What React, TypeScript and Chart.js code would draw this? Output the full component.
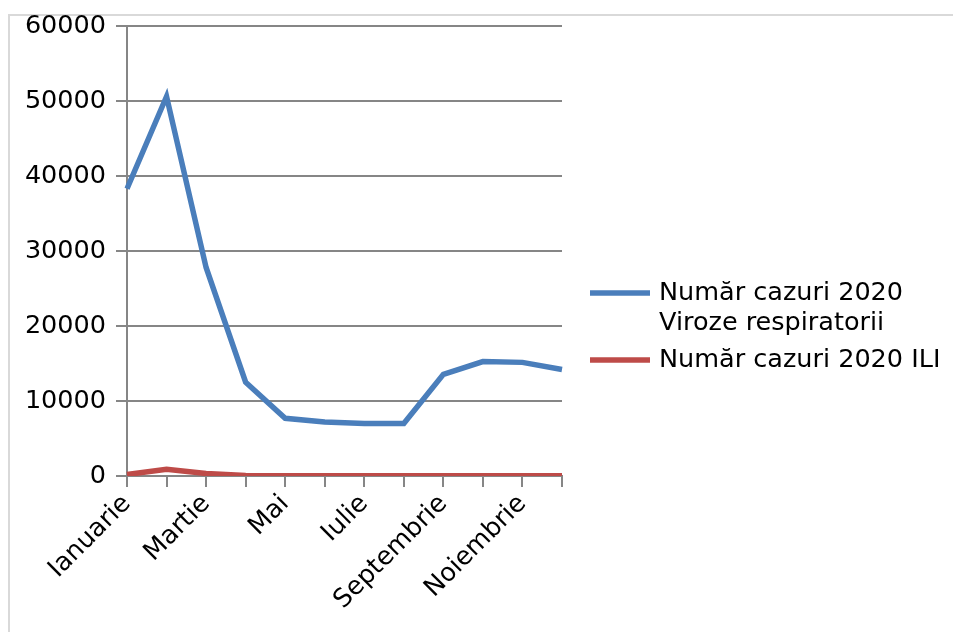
import React, { useEffect, useRef } from "react";
import { Chart, registerables } from "chart.js";

Chart.register(...registerables);

const months = [
  "Ianuarie", "Februarie", "Martie", "Aprilie", "Mai", "Iunie",
  "Iulie", "August", "Septembrie", "Octombrie", "Noiembrie", "Decembrie",
];
const virozeValues = [38300, 50600, 27800, 12500, 7700, 7200, 7000, 7000, 13550, 15250, 15150, 14200];
const iliValues = [200, 900, 330, 60, 20, 20, 20, 20, 20, 20, 20, 20];
const seriesLabels = [["Număr cazuri 2020", "Viroze respiratorii"], ["Număr cazuri 2020 ILI"]];
const seriesColors = ["#4a7ebb", "#be4b48"];
const yTicks = { min: 0, max: 60000, step: 10000 };

const FONT = "'DejaVu Sans', sans-serif";
const FS = 25.5;

const legendPlugin = {
  id: "customLegend",
  afterDraw(chart: any) {
    const ctx = chart.ctx;
    ctx.save();
    ctx.font = `${FS}px ${FONT}`;
    ctx.fillStyle = "#000";
    ctx.textBaseline = "middle";
    const x0 = 590;
    const lineLen = 60;
    const tx = 659;
    const lh = 30;
    let y = 293;
    chart.data.datasets.forEach((ds: any) => {
      const lines: string[] = Array.isArray(ds.label) ? ds.label : [ds.label];
      ctx.strokeStyle = ds.borderColor;
      ctx.lineWidth = 5.5;
      ctx.beginPath();
      ctx.moveTo(x0, y);
      ctx.lineTo(x0 + lineLen, y);
      ctx.stroke();
      lines.forEach((t, j) => ctx.fillText(t, tx, y + j * lh));
      y += lines.length * lh + 7;
    });
    ctx.restore();
  },
};

export default function App() {
  const ref = useRef<HTMLCanvasElement>(null);
  useEffect(() => {
    const chart = new Chart(ref.current!, {
      type: "line",
      data: {
        labels: months,
        datasets: [
          {
            label: seriesLabels[0] as any,
            data: virozeValues,
            borderColor: seriesColors[0],
            backgroundColor: seriesColors[0],
            borderWidth: 5.5,
            pointRadius: 0,
            tension: 0,
          },
          {
            label: seriesLabels[1] as any,
            data: iliValues,
            borderColor: seriesColors[1],
            backgroundColor: seriesColors[1],
            borderWidth: 5.5,
            pointRadius: 0,
            tension: 0,
          },
        ],
      },
      options: {
        animation: false,
        responsive: false,
        maintainAspectRatio: false,
        layout: { padding: { left: 0, right: 953 - 562, top: 26, bottom: 0 } },
        plugins: { legend: { display: false }, tooltip: { enabled: false } },
        scales: {
          x: {
            offset: false,
            grid: { drawOnChartArea: false, drawTicks: true, tickLength: 11, color: "#868686", lineWidth: 2 },
            border: { color: "#868686", width: 2 },
            ticks: {
              autoSkip: false,
              minRotation: 45,
              maxRotation: 45,
              padding: 2,
              color: "#000",
              font: { family: FONT, size: FS },
              callback: (_v: any, i: number) => (i % 2 === 0 ? months[i] : ""),
            },
            afterFit: (s: any) => { s.height = 632 - 476; },
          },
          y: {
            min: yTicks.min,
            max: yTicks.max,
            grid: { color: "#868686", lineWidth: 2, tickLength: 11 },
            border: { color: "#868686", width: 2 },
            ticks: {
              stepSize: yTicks.step,
              padding: 10,
              color: "#000",
              font: { family: FONT, size: FS },
              callback: (v: any) => String(v),
            },
            afterFit: (s: any) => { s.width = 127; },
          },
        },
      },
      plugins: [legendPlugin],
    });
    return () => chart.destroy();
  }, []);
  return (
    <div>
      <div
        style={{
          position: "fixed", left: 8, top: 14, width: 1000, height: 700,
          border: "2px solid #d9d9d9", boxSizing: "border-box",
        }}
      />
      <canvas
        ref={ref}
        width={953}
        height={632}
        style={{ position: "fixed", left: 0, top: 0, width: 953, height: 632 }}
      />
    </div>
  );
}
